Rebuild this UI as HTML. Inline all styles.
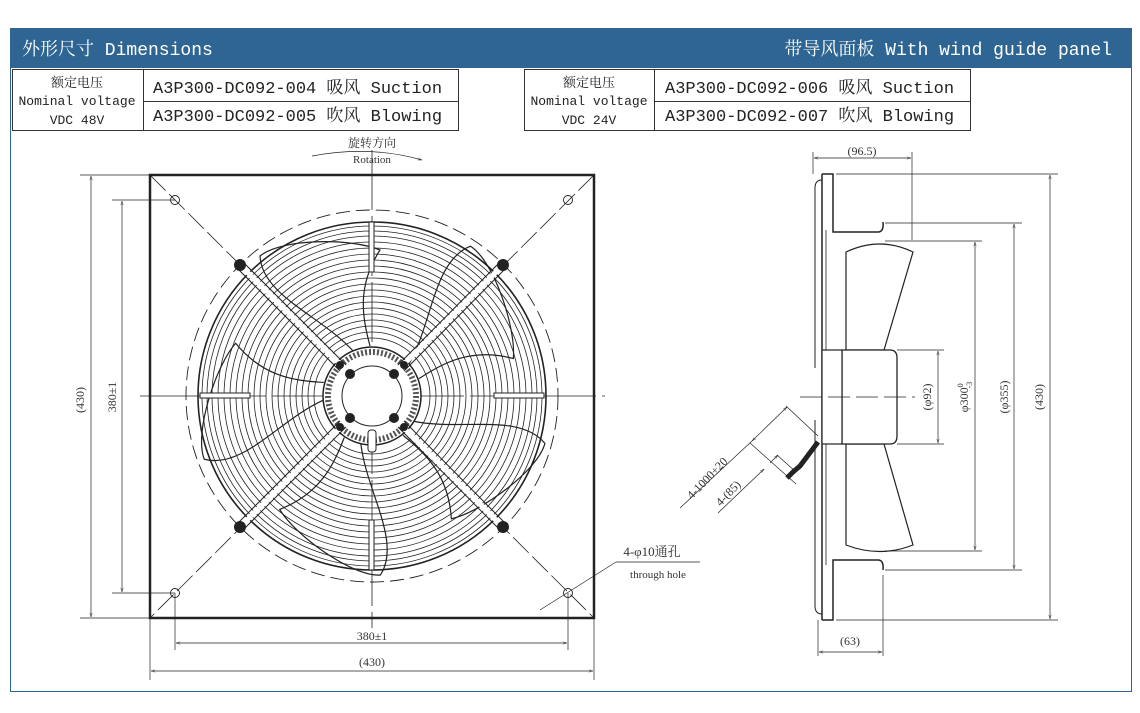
<!DOCTYPE html>
<html><head><meta charset="utf-8"><style>
body{margin:0;background:#fff;width:1140px;height:713px;overflow:hidden}
svg{display:block}
.t{font-family:"Liberation Mono","Noto Serif CJK SC",monospace;fill:#222}
.s{font-family:"Liberation Serif","Noto Serif CJK SC",serif;fill:#333}
</style></head><body>
<svg width="1140" height="713" viewBox="0 0 1140 713" xmlns="http://www.w3.org/2000/svg">
<defs>
<marker id="a" viewBox="0 0 10 10" refX="10" refY="5" markerWidth="9" markerHeight="6" orient="auto-start-reverse"><path d="M0,2 L10,5 L0,8" fill="none" stroke="#333" stroke-width="1"/></marker>
</defs>
<rect x="10.5" y="28.5" width="1121" height="663" fill="none" stroke="#2e6592" stroke-width="1"/>
<rect x="10" y="28" width="1122" height="40" fill="#2e6592"/>
<text x="22" y="55" font-size="18" class="t" style="fill:#fff">外形尺寸 Dimensions</text>
<text x="1112" y="55" font-size="18" text-anchor="end" class="t" style="fill:#fff">带导风面板 With wind guide panel</text>
<g fill="none" stroke="#333" stroke-width="1">
<rect x="12.5" y="69.5" width="446" height="61"/><line x1="143.5" y1="69" x2="143.5" y2="130"/><line x1="143" y1="101.5" x2="458" y2="101.5"/>
<rect x="524.5" y="69.5" width="446" height="61"/><line x1="654.5" y1="69" x2="654.5" y2="130"/><line x1="654" y1="101.5" x2="970" y2="101.5"/>
</g>
<g class="t" font-size="13" text-anchor="middle">
<text x="77" y="87">额定电压</text><text x="77" y="105">Nominal voltage</text><text x="77" y="124">VDC 48V</text>
<text x="589" y="87">额定电压</text><text x="589" y="105">Nominal voltage</text><text x="589" y="124">VDC 24V</text>
</g>
<g class="t" font-size="17">
<text x="153" y="93">A3P300-DC092-004 吸风 Suction</text><text x="153" y="121">A3P300-DC092-005 吹风 Blowing</text>
<text x="665" y="93">A3P300-DC092-006 吸风 Suction</text><text x="665" y="121">A3P300-DC092-007 吹风 Blowing</text>
</g>
<!-- front view -->
<g fill="none" stroke="#222">
<rect x="150" y="175" width="444" height="443" stroke-width="2.5"/>
<line x1="150" y1="175" x2="594" y2="618" stroke-width="0.8" stroke-dasharray="22,5"/>
<line x1="594" y1="175" x2="150" y2="618" stroke-width="0.8" stroke-dasharray="22,5"/>
<circle cx="372" cy="396" r="186" stroke-width="0.9" stroke-dasharray="14,6"/>
<line x1="372" y1="150" x2="372" y2="628" stroke-width="0.8" stroke-dasharray="60,6"/>
<line x1="140" y1="396" x2="605" y2="396" stroke-width="0.8" stroke-dasharray="60,6"/>
<g stroke-width="0.8">
<circle cx="372" cy="396" r="174" stroke-width="1.6"/><circle cx="372" cy="396" r="170"/><circle cx="372" cy="396" r="165"/><circle cx="372" cy="396" r="160"/><circle cx="372" cy="396" r="154"/><circle cx="372" cy="396" r="148"/><circle cx="372" cy="396" r="142"/><circle cx="372" cy="396" r="136"/><circle cx="372" cy="396" r="130"/><circle cx="372" cy="396" r="124"/><circle cx="372" cy="396" r="118"/><circle cx="372" cy="396" r="112"/><circle cx="372" cy="396" r="106"/><circle cx="372" cy="396" r="100"/><circle cx="372" cy="396" r="94"/><circle cx="372" cy="396" r="88"/><circle cx="372" cy="396" r="82"/><circle cx="372" cy="396" r="76"/><circle cx="372" cy="396" r="70"/><circle cx="372" cy="396" r="64"/><circle cx="372" cy="396" r="58"/>
</g>
<g stroke-width="1.2" transform="translate(372,396)">
<path id="bl" d="M-18,-44 C-50,-80 -110,-100 -112,-140 C-90,-158 -20,-158 8,-146 C-15,-110 -10,-80 -2,-50"/>
<use href="#bl" transform="rotate(72)"/><use href="#bl" transform="rotate(144)"/><use href="#bl" transform="rotate(216)"/><use href="#bl" transform="rotate(288)"/>
</g>
<circle cx="372" cy="396" r="49" fill="#fff" stroke-width="1.5"/>
<circle cx="372" cy="396" r="44" stroke-width="6" stroke="#555" stroke-dasharray="2,2"/>
<circle cx="372" cy="396" r="30" fill="#fff" stroke-width="1"/>
<g stroke-width="5" stroke="#fff"><line x1="240" y1="265" x2="343" y2="367"/><line x1="503" y1="265" x2="401" y2="367"/><line x1="240" y1="527" x2="343" y2="425"/><line x1="503" y1="527" x2="401" y2="425"/></g>
<g stroke-width="1"><line x1="237" y1="268" x2="340" y2="371"/><line x1="243" y1="262" x2="346" y2="365"/><line x1="506" y1="268" x2="404" y2="371"/><line x1="500" y1="262" x2="398" y2="365"/><line x1="237" y1="524" x2="340" y2="421"/><line x1="243" y1="530" x2="346" y2="427"/><line x1="506" y1="524" x2="404" y2="421"/><line x1="500" y1="530" x2="398" y2="427"/></g>
<g fill="#222" stroke="none"><circle cx="240" cy="265" r="6"/><circle cx="503" cy="265" r="6"/><circle cx="240" cy="527" r="6"/><circle cx="503" cy="527" r="6"/>
<circle cx="350" cy="374" r="5"/><circle cx="394" cy="374" r="5"/><circle cx="350" cy="418" r="5"/><circle cx="394" cy="418" r="5"/>
<circle cx="340" cy="365" r="4"/><circle cx="404" cy="365" r="4"/><circle cx="340" cy="427" r="4"/><circle cx="404" cy="427" r="4"/></g>
<rect x="368" y="430" width="8" height="22" rx="3" fill="#fff"/>
<g stroke-width="1"><rect x="369" y="222" width="5" height="50" fill="#fff"/><rect x="369" y="520" width="5" height="50" fill="#fff"/><rect x="200" y="393" width="50" height="5" fill="#fff"/><rect x="494" y="393" width="50" height="5" fill="#fff"/></g>
<g stroke-width="0.9"><circle cx="175" cy="200" r="4.5"/><circle cx="568" cy="200" r="4.5"/><circle cx="175" cy="593" r="4.5"/><circle cx="568" cy="593" r="4.5"/></g>
<!-- dims -->
<g stroke-width="0.7">
<line x1="80" y1="175" x2="150" y2="175"/><line x1="80" y1="618" x2="150" y2="618"/>
<line x1="112" y1="200" x2="175" y2="200"/><line x1="112" y1="593" x2="175" y2="593"/>
<line x1="91" y1="176" x2="91" y2="617" marker-start="url(#a)" marker-end="url(#a)"/>
<line x1="122" y1="201" x2="122" y2="592" marker-start="url(#a)" marker-end="url(#a)"/>
<line x1="175" y1="593" x2="175" y2="650"/><line x1="568" y1="593" x2="568" y2="650"/>
<line x1="150" y1="618" x2="150" y2="680"/><line x1="594" y1="618" x2="594" y2="680"/>
<line x1="176" y1="643" x2="567" y2="643" marker-start="url(#a)" marker-end="url(#a)"/>
<line x1="151" y1="671" x2="593" y2="671" marker-start="url(#a)" marker-end="url(#a)"/>
<path d="M312,156 Q370,145 422,160" marker-end="url(#a)"/>
<line x1="540" y1="610" x2="616" y2="562"/><line x1="616" y1="562" x2="700" y2="562"/>
</g>
</g>
<g class="s" font-size="12" text-anchor="middle">
<text x="372" y="147">旋转方向</text><text x="372" y="163" font-size="11">Rotation</text>
<text x="372" y="640">380±1</text><text x="372" y="666">(430)</text>
<text x="84" y="400" transform="rotate(-90 84 400)">(430)</text>
<text x="116" y="397" transform="rotate(-90 116 397)">380±1</text>
<text x="652" y="556" font-size="13">4-φ10通孔</text><text x="658" y="578" font-size="11">through hole</text>
</g>
<!-- side view -->
<g fill="none" stroke="#222">
<path d="M822,174 L833,174 L833,232 L878,232 Q884,232 883,222" stroke-width="1.5"/>
<path d="M822,620 L833,620 L833,560 L878,560 Q884,560 883,570" stroke-width="1.5"/>
<line x1="822" y1="174" x2="822" y2="620" stroke-width="1.5"/>
<line x1="826" y1="230" x2="826" y2="565" stroke-width="0.8"/>
<path d="M822,180 Q815,180 815,188 L815,368" stroke-width="1"/>
<path d="M822,614 Q815,614 815,606 L815,420" stroke-width="1"/>
<path d="M846,252 Q880,236 913,252 L884,350 L846,350 Z" stroke-width="1.2"/>
<path d="M846,545 Q880,558 913,545 L884,444 L846,444 Z" stroke-width="1.2"/>
<path d="M842,350 L890,350 Q897,350 897,358 L897,436 Q897,444 890,444 L842,444 Z" fill="#fff" stroke-width="1.3"/>
<rect x="822" y="350" width="20" height="94" fill="#fff" stroke-width="1.2"/>
<line x1="800" y1="397" x2="915" y2="397" stroke-width="0.8" stroke-dasharray="22,6"/>
<path d="M818,442 L800,466 L793,472" stroke-width="5"/>
<path d="M795,470 L787,478" stroke-width="5" stroke="#222"/>
<g stroke-width="0.7">
<line x1="813" y1="174" x2="813" y2="152"/><line x1="912" y1="240" x2="912" y2="152"/>
<line x1="814" y1="158" x2="911" y2="158" marker-start="url(#a)" marker-end="url(#a)"/>
<line x1="818" y1="620" x2="818" y2="656"/><line x1="883" y1="575" x2="883" y2="656"/>
<line x1="819" y1="652" x2="882" y2="652" marker-start="url(#a)" marker-end="url(#a)"/>
<line x1="836" y1="174" x2="1058" y2="174"/><line x1="836" y1="620" x2="1058" y2="620"/>
<line x1="1050" y1="175" x2="1050" y2="619" marker-start="url(#a)" marker-end="url(#a)"/>
<line x1="885" y1="223" x2="1022" y2="223"/><line x1="885" y1="570" x2="1022" y2="570"/>
<line x1="1014" y1="224" x2="1014" y2="569" marker-start="url(#a)" marker-end="url(#a)"/>
<line x1="885" y1="241" x2="982" y2="241"/><line x1="885" y1="551" x2="982" y2="551"/>
<line x1="975" y1="242" x2="975" y2="550" marker-start="url(#a)" marker-end="url(#a)"/>
<line x1="897" y1="350" x2="944" y2="350"/><line x1="897" y1="444" x2="944" y2="444"/>
<line x1="938" y1="351" x2="938" y2="443" marker-start="url(#a)" marker-end="url(#a)"/>
<line x1="786" y1="406" x2="818" y2="436"/><line x1="750" y1="443" x2="796" y2="484"/>
<line x1="777" y1="455" x2="796" y2="472"/>
<line x1="787" y1="407" x2="752" y2="441" marker-start="url(#a)" marker-end="url(#a)"/>
<line x1="680" y1="508" x2="752" y2="441"/>
<line x1="778" y1="455" x2="770" y2="463" marker-start="url(#a)"/>
<line x1="764" y1="469" x2="718" y2="513" marker-end="url(#a)" transform="rotate(180 741 491)"/>
</g>
</g>
<g class="s" font-size="12" text-anchor="middle">
<text x="862" y="155">(96.5)</text><text x="850" y="645">(63)</text>
<text x="1043" y="397" transform="rotate(-90 1043 397)">(430)</text>
<text x="1008" y="397" transform="rotate(-90 1008 397)">(φ355)</text>
<text x="968" y="397" transform="rotate(-90 968 397)">φ300<tspan font-size="8" dy="-5">0</tspan><tspan font-size="8" dy="9" dx="-5">-3</tspan></text>
<text x="931" y="397" transform="rotate(-90 931 397)">(φ92)</text>
<text x="710" y="481" transform="rotate(-46 710 481)">4-1000±20</text>
<text x="731" y="496" transform="rotate(-46 731 496)">4-(85)</text>
</g>
</svg>
</body></html>
